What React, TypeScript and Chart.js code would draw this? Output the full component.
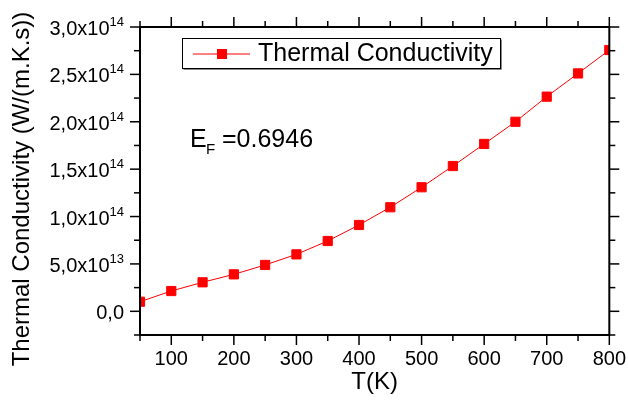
import React, { useEffect, useRef } from 'react';
import { Chart, registerables } from 'chart.js';

Chart.register(...registerables);

const temperatures = [50, 100, 150, 200, 250, 300, 350, 400, 450, 500, 550, 600, 650, 700, 750, 800];
const conductivity = [
  1.01e13, 2.14e13, 3.06e13, 3.9e13, 4.89e13, 6.01e13, 7.42e13, 9.11e13,
  1.098e14, 1.309e14, 1.533e14, 1.766e14, 2.0e14, 2.265e14, 2.51e14, 2.757e14,
];
const xMin = 50;
const xMax = 800;
const xStep = 50;
const xLabelEvery = 100;
const yMin = -2.5e13;
const yMax = 3.0e14;
const yStep = 2.5e13;
const yLabelEvery = 5e13;
const seriesLabel = 'Thermal Conductivity';
const xTitle = 'T(K)';
const yTitle = 'Thermal Conductivity (W/(m.K.s))';
const fermiSymbol = 'E';
const fermiSub = 'F';
const fermiValue = '=0.6946';

const FONT = '"Liberation Sans", Arial, Helvetica, sans-serif';
const RED = '#ff0000';

function yLabelParts(v: number): [string, string] {
  if (Math.abs(v) < 1) return ['0,0', ''];
  const exp = Math.floor(Math.log10(Math.abs(v)) + 1e-9);
  const mant = v / Math.pow(10, exp);
  return [mant.toFixed(1).replace('.', ',') + 'x10', String(exp)];
}

const decorPlugin = {
  id: 'decor',
  afterDraw(chart: any) {
    const ctx: CanvasRenderingContext2D = chart.ctx;
    const { left, right, top, bottom } = chart.chartArea;
    const xs = chart.scales.x;
    const ys = chart.scales.y;
    ctx.save();
    // frame
    ctx.strokeStyle = '#000';
    ctx.lineWidth = 2;
    ctx.strokeRect(left, top, right - left, bottom - top);
    // ticks
    ctx.lineWidth = 1.5;
    const seg = (x1: number, y1: number, x2: number, y2: number) => {
      ctx.beginPath();
      ctx.moveTo(x1, y1);
      ctx.lineTo(x2, y2);
      ctx.stroke();
    };
    xs.ticks.forEach((t: any) => {
      const px = xs.getPixelForValue(t.value);
      const major = Math.round(t.value / xStep) % (xLabelEvery / xStep) === 0;
      const len = major ? 10 : 6;
      seg(px, bottom, px, bottom + len);
      seg(px, top, px, top - len);
    });
    ys.ticks.forEach((t: any) => {
      const py = ys.getPixelForValue(t.value);
      const major = Math.abs(Math.round(t.value / yStep)) % (yLabelEvery / yStep) === 0;
      const len = major ? 10 : 6;
      seg(left, py, left - len, py);
      seg(right, py, right + len, py);
      if (major) {
        const [main, sup] = yLabelParts(t.value);
        const endX = left - 16;
        ctx.fillStyle = '#000';
        ctx.textBaseline = 'alphabetic';
        ctx.font = `13px ${FONT}`;
        const supW = sup ? ctx.measureText(sup).width : 0;
        if (sup) {
          ctx.textAlign = 'left';
          ctx.fillText(sup, endX - supW, py - 1);
        }
        ctx.font = `20px ${FONT}`;
        ctx.textAlign = 'right';
        ctx.fillText(main, endX - supW, py + 8);
      }
    });
    // y title
    ctx.save();
    ctx.translate(22, 189);
    ctx.rotate(-Math.PI / 2);
    ctx.font = `24px ${FONT}`;
    ctx.fillStyle = '#000';
    ctx.textAlign = 'center';
    ctx.textBaseline = 'middle';
    ctx.fillText(yTitle, 0, 0);
    ctx.restore();
    // legend
    ctx.lineWidth = 1;
    ctx.strokeStyle = '#888';
    seg(183.5, 69.5, 501.5, 69.5);
    seg(501.5, 39.5, 501.5, 69.5);
    ctx.strokeStyle = '#000';
    ctx.strokeRect(182.5, 38.5, 318, 30);
    ctx.strokeStyle = RED;
    seg(193, 54, 250, 54);
    ctx.fillStyle = RED;
    ctx.fillRect(217, 49, 10, 10);
    ctx.fillStyle = '#000';
    ctx.font = `25px ${FONT}`;
    ctx.textAlign = 'left';
    ctx.textBaseline = 'middle';
    ctx.fillText(seriesLabel, 258, 54);
    // E_F annotation
    ctx.textBaseline = 'alphabetic';
    ctx.font = `25px ${FONT}`;
    ctx.fillText(fermiSymbol, 190, 147);
    ctx.font = `15px ${FONT}`;
    ctx.fillText(fermiSub, 206, 154);
    ctx.font = `25px ${FONT}`;
    ctx.fillText(fermiValue, 222, 147);
    ctx.restore();
  },
};

export default function App() {
  const ref = useRef<HTMLCanvasElement | null>(null);
  useEffect(() => {
    if (!ref.current) return;
    const chart = new Chart(ref.current, {
      type: 'line',
      data: {
        datasets: [
          {
            label: seriesLabel,
            data: temperatures.map((t, i) => ({ x: t, y: conductivity[i] })),
            borderColor: RED,
            backgroundColor: RED,
            borderWidth: 1,
            pointStyle: 'rect',
            pointRadius: 6.5,
            pointBorderWidth: 1,
            pointBorderColor: RED,
            pointBackgroundColor: RED,
            tension: 0,
            clip: 0,
          } as any,
        ],
      },
      options: {
        responsive: false,
        animation: false,
        layout: { padding: { left: 0, top: 27, right: 17, bottom: 0 } },
        plugins: { legend: { display: false }, tooltip: { enabled: false } },
        scales: {
          x: {
            type: 'linear',
            min: xMin,
            max: xMax,
            border: { display: false },
            grid: { display: true, drawOnChartArea: false, drawTicks: true, tickLength: 10, color: 'rgba(0,0,0,0)' },
            ticks: {
              stepSize: xStep,
              autoSkip: false,
              maxRotation: 0,
              padding: 2,
              color: '#000',
              font: { family: FONT, size: 20 },
              callback: (v: any) => (Number(v) % xLabelEvery === 0 ? String(v) : ''),
            },
            title: {
              display: true,
              text: xTitle,
              color: '#000',
              font: { family: FONT, size: 24 },
              padding: { top: 0, bottom: 9 },
            },
            afterFit: (s: any) => {
              s.height = 71;
            },
          },
          y: {
            type: 'linear',
            min: yMin,
            max: yMax,
            border: { display: false },
            grid: { display: false },
            ticks: { stepSize: yStep, display: false },
            afterFit: (s: any) => {
              s.width = 140;
            },
          },
        },
      } as any,
      plugins: [decorPlugin],
    });
    return () => chart.destroy();
  }, []);
  return (
    <div style={{ position: 'fixed', left: 0, top: 0, width: 628, height: 406, background: '#fff' }}>
      <canvas ref={ref} width={628} height={406} style={{ display: 'block' }} />
    </div>
  );
}
